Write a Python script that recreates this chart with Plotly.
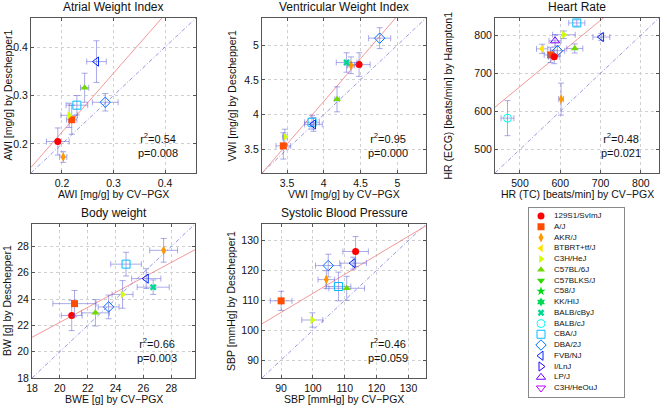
import colorsys
import plotly.graph_objects as go

W, H = 661, 406
FONT = "Liberation Sans, Arial, sans-serif"

# ---------------- data ----------------
strains = ["129S1/SvImJ", "A/J", "AKR/J", "BTBRT+tf/J", "C3H/HeJ", "C57BL/6J",
           "C57BLKS/J", "C58/J", "KK/HIJ", "BALB/cByJ", "BALB/cJ", "CBA/J",
           "DBA/2J", "FVB/NJ", "I/LnJ", "LP/J", "C3H/HeOuJ"]
symbols = ["circle", "square", "diamond-tall", "triangle-left", "triangle-right",
           "triangle-up", "triangle-down", "star", "hexagram", "x",
           "circle-open", "square-open", "diamond-open", "triangle-left-open",
           "triangle-right-open", "triangle-up-open", "triangle-down-open"]

# Atrial Weight Index
awi_strains = ["129S1/SvImJ", "AKR/J", "A/J", "C3H/HeJ", "CBA/J", "C57BL/6J", "DBA/2J", "FVB/NJ"]
awi_x = [0.192, 0.2025, 0.219, 0.214, 0.229, 0.244, 0.284, 0.267]
awi_y = [0.205, 0.173, 0.250, 0.259, 0.280, 0.316, 0.286, 0.370]
awi_xe = [0.022, 0.007, 0.010, 0.016, 0.021, 0.008, 0.025, 0.019]
awi_ye = [0.028, 0.011, 0.030, 0.025, 0.020, 0.030, 0.018, 0.043]

# Ventricular Weight Index
vwi_strains = ["129S1/SvImJ", "AKR/J", "BALB/cByJ", "C57BL/6J", "DBA/2J", "CBA/J", "FVB/NJ", "C3H/HeJ", "A/J"]
vwi_x = [4.48, 4.37, 4.31, 4.18, 4.76, 3.84, 3.86, 3.47, 3.45]
vwi_y = [4.72, 4.71, 4.75, 4.22, 5.10, 3.89, 3.86, 3.68, 3.55]
vwi_xe = [0.15, 0.05, 0.14, 0.03, 0.15, 0.10, 0.12, 0.03, 0.10]
vwi_ye = [0.17, 0.12, 0.14, 0.18, 0.15, 0.10, 0.10, 0.11, 0.19]

# Heart Rate
hr_strains = ["BALB/cJ", "AKR/J", "CBA/J", "C3H/HeJ", "FVB/NJ", "LP/J", "C57BL/6J",
              "BTBRT+tf/J", "DBA/2J", "A/J", "129S1/SvImJ"]
hr_x = [469, 602, 641, 609, 702, 587, 636, 555, 593, 576, 585]
hr_y = [582, 632, 832, 801, 795, 785, 765, 764, 759, 748, 743]
hr_xe = [16, 6, 20, 28, 21, 15, 20, 14, 18, 16, 14]
hr_ye = [46, 42, 8, 10, 9, 16, 12, 12, 14, 20, 18]

# Body weight
bw_strains = ["129S1/SvImJ", "A/J", "C57BL/6J", "DBA/2J", "C3H/HeJ", "CBA/J", "FVB/NJ", "BALB/cByJ", "AKR/J"]
bw_x = [20.85, 21.05, 22.55, 23.5, 24.5, 24.75, 26.2, 26.7, 27.45]
bw_y = [22.75, 23.65, 22.95, 23.4, 24.35, 26.65, 25.55, 24.9, 27.7]
bw_xe = [0.75, 1.55, 1.0, 0.75, 0.75, 1.1, 1.05, 1.15, 1.0]
bw_ye = [1.15, 1.0, 1.0, 0.9, 1.05, 0.9, 0.75, 0.55, 0.9]

# Systolic Blood Pressure
sbp_strains = ["129S1/SvImJ", "FVB/NJ", "DBA/2J", "AKR/J", "CBA/J", "C57BL/6J", "A/J", "C3H/HeJ"]
sbp_x = [113.4, 112.6, 104.8, 104.2, 108.0, 110.6, 90.0, 99.8]
sbp_y = [126.3, 122.4, 121.6, 116.9, 114.6, 114.0, 109.8, 103.4]
sbp_xe = [4.0, 4.2, 4.0, 2.6, 3.9, 5.6, 3.4, 3.3]
sbp_ye = [5.0, 2.0, 3.8, 3.0, 4.8, 4.0, 3.2, 2.4]

panels = [
    dict(title="Atrial Weight Index", xt="AWI [mg/g] by CV\u2212PGX", yt="AWI [mg/g] by Deschepper1",
         s=awi_strains, x=awi_x, y=awi_y, xe=awi_xe, ye=awi_ye, rng=[0.14, 0.46],
         ticks=[0.2, 0.3, 0.4], fit=(1.215, -0.0185), r2="0.54", p="0.008"),
    dict(title="Ventricular Weight Index", xt="VWI [mg/g] by CV\u2212PGX", yt="VWI [mg/g] by Deschepper1",
         s=vwi_strains, x=vwi_x, y=vwi_y, xe=vwi_xe, ye=vwi_ye, rng=[3.16, 5.39],
         ticks=[3.5, 4, 4.5, 5], fit=(1.23, -0.73), r2="0.95", p="0.000"),
    dict(title="Heart Rate", xt="HR (TC) [beats/min] by CV\u2212PGX", yt="HR (ECG) [beats/min] by Hampton1",
         s=hr_strains, x=hr_x, y=hr_y, xe=hr_xe, ye=hr_ye, rng=[438, 845],
         ticks=[500, 600, 700, 800], fit=(0.871, 229.4), r2="0.48", p="0.021"),
    dict(title="Body weight", xt="BWE [g] by CV\u2212PGX", yt="BW [g] by Deschepper1",
         s=bw_strains, x=bw_x, y=bw_y, xe=bw_xe, ye=bw_ye, rng=[18, 29.7],
         ticks=[18, 20, 22, 24, 26, 28], fit=(0.569, 10.85), r2="0.66", p="0.003"),
    dict(title="Systolic Blood Pressure", xt="SBP [mmHg] by CV\u2212PGX", yt="SBP [mmHg] by Deschepper1",
         s=sbp_strains, x=sbp_x, y=sbp_y, xe=sbp_xe, ye=sbp_ye, rng=[84, 135.5],
         ticks=[90, 100, 110, 120, 130], fit=(0.637, 48.6), r2="0.46", p="0.059"),
]

# ---------------- layout geometry (pixels) ----------------
boxes = [(31, 196, 18, 173), (262, 426, 18, 173), (495, 659, 18, 173),
         (32, 195, 224, 378), (262, 426, 224, 378)]
ytitle_x = [7, 231, 447, 7, 231]
xtitle_dy = [21, 21, 21, 21, 21]
legend_box = (529, 624, 208, 397)


def hsv_color(i):
    h = (i * 17.8) / 360.0
    v = 0.85 if 5 <= i <= 9 else 1.0
    r, g, b = colorsys.hsv_to_rgb(h, 1.0, v)
    return "rgb(%d,%d,%d)" % (round(r * 255), round(g * 255), round(b * 255))


colors = {s: hsv_color(i) for i, s in enumerate(strains)}
symb = dict(zip(strains, symbols))
ERR = "rgba(100,100,215,0.55)"

fig = go.Figure()
annotations = []


def ann(text, xp, yp, size=11, angle=0):
    return dict(text=text, x=xp / W, y=1 - yp / H, xref="paper", yref="paper",
                xanchor="center", yanchor="middle", showarrow=False, textangle=angle,
                align="center", font=dict(size=size, color="#111", family=FONT))


for k, (pn, bx) in enumerate(zip(panels, boxes)):
    ax = "" if k == 0 else str(k + 1)
    x0, x1, y0, y1 = bx
    lo, hi = pn["rng"]
    # identity line
    fig.add_trace(go.Scatter(x=[lo, hi], y=[lo, hi], mode="lines", showlegend=False,
                             line=dict(color="rgba(110,110,220,0.9)", width=0.8, dash="4px,2px,1px,2px"),
                             xaxis="x" + ax, yaxis="y" + ax, hoverinfo="skip"))
    a, b = pn["fit"]
    fig.add_trace(go.Scatter(x=[lo, hi], y=[a * lo + b, a * hi + b], mode="lines", showlegend=False,
                             line=dict(color="rgba(240,110,110,0.9)", width=0.8),
                             xaxis="x" + ax, yaxis="y" + ax, hoverinfo="skip"))
    for s, xv, yv, xe, ye in zip(pn["s"], pn["x"], pn["y"], pn["xe"], pn["ye"]):
        sym = symb[s]
        opn = sym.endswith("-open")
        size = 8 if opn else 7
        if sym == "x":
            size = 6
        fig.add_trace(go.Scatter(
            x=[xv], y=[yv], mode="markers", showlegend=False, name=s,
            marker=dict(symbol=sym, size=size, color=colors[s],
                        line=dict(color=colors[s], width=1 if opn else 0)),
            error_x=dict(type="data", array=[xe], color=ERR, thickness=1, width=3),
            error_y=dict(type="data", array=[ye], color=ERR, thickness=1, width=3),
            xaxis="x" + ax, yaxis="y" + ax))
    axis_common = dict(range=[lo, hi], tickvals=pn["ticks"], showline=True, mirror="allticks",
                       linecolor="#555", linewidth=1, ticks="inside", ticklen=3, tickcolor="#555",
                       showgrid=True, gridcolor="#d0d0d0", griddash="dot", gridwidth=1,
                       zeroline=False, automargin=False,
                       tickfont=dict(size=10.5, color="#111", family=FONT))
    fig.update_layout({
        "xaxis" + ax: dict(domain=[x0 / W, x1 / W], anchor="y" + ax, **axis_common),
        "yaxis" + ax: dict(domain=[1 - y1 / H, 1 - y0 / H], anchor="x" + ax, **axis_common),
    })
    cx = (x0 + x1) / 2
    cy = (y0 + y1) / 2
    annotations.append(ann(pn["title"], cx, y0 - 11, size=12))
    annotations.append(ann(pn["xt"], cx, y1 + xtitle_dy[k], size=10.5))
    annotations.append(ann(pn["yt"], ytitle_x[k], cy, size=10.5, angle=-90))
    annotations.append(ann("r<sup>2</sup>=%s<br>p=%s" % (pn["r2"], pn["p"]), x1 - 38, y1 - 28))

# ---------------- legend panel ----------------
lx0, lx1, ly0, ly1 = legend_box
for i, s in enumerate(strains):
    sym = symb[s]
    opn = sym.endswith("-open")
    size = 8 if opn else 7
    if sym == "x":
        size = 6
    yy = 8 + 10.75 * i
    fig.add_trace(go.Scatter(x=[12], y=[yy], mode="markers", showlegend=False, name=s,
                             marker=dict(symbol=sym, size=size, color=colors[s],
                                         line=dict(color=colors[s], width=1 if opn else 0)),
                             xaxis="x6", yaxis="y6", hoverinfo="skip"))
fig.add_trace(go.Scatter(x=[25] * len(strains), y=[8 + 10.75 * i for i in range(len(strains))],
                         text=strains, mode="text", textposition="middle right", showlegend=False,
                         textfont=dict(size=8, color="#111", family=FONT),
                         xaxis="x6", yaxis="y6", hoverinfo="skip"))
fig.update_layout(
    xaxis6=dict(domain=[lx0 / W, lx1 / W], anchor="y6", range=[0, lx1 - lx0], showline=True, mirror=True,
                linecolor="#888", linewidth=1, showgrid=False, zeroline=False, showticklabels=False, ticks=""),
    yaxis6=dict(domain=[1 - ly1 / H, 1 - ly0 / H], anchor="x6", range=[ly1 - ly0, 0], showline=True,
                mirror=True, linecolor="#888", linewidth=1, showgrid=False, zeroline=False,
                showticklabels=False, ticks=""),
)

fig.update_layout(width=W, height=H, margin=dict(l=0, r=0, t=0, b=0),
                  paper_bgcolor="white", plot_bgcolor="white", showlegend=False,
                  annotations=annotations, font=dict(family=FONT))
fig.write_html("out.html", config={"displayModeBar": False},
               post_script="document.body.style.margin='0';document.body.style.overflow='hidden';")
